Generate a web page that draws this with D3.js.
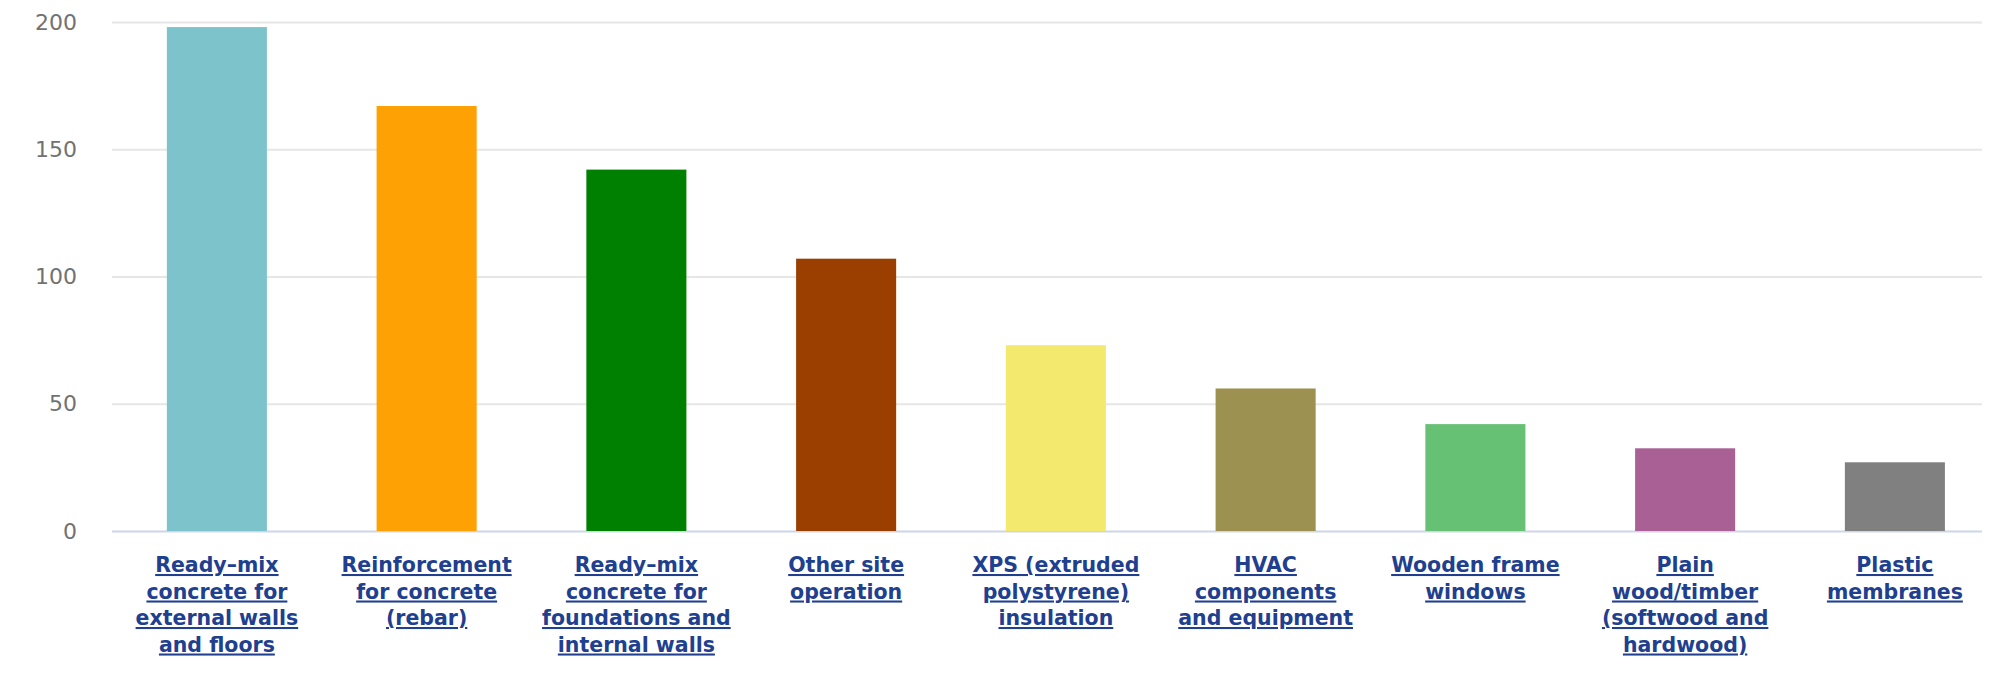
<!DOCTYPE html>
<html>
<head>
<meta charset="utf-8">
<script src="https://cdn.jsdelivr.net/npm/d3@7"></script>
<style>
  html, body { margin: 0; padding: 0; background: #ffffff; }
  svg { display: block; }
</style>
</head>
<body>
<svg id="chart" width="1999" height="675"></svg>
<script>
// ---- data ----
const categories = [
  "Ready–mix concrete for external walls and floors",
  "Reinforcement for concrete (rebar)",
  "Ready–mix concrete for foundations and internal walls",
  "Other site operation",
  "XPS (extruded polystyrene) insulation",
  "HVAC components and equipment",
  "Wooden frame windows",
  "Plain wood/timber (softwood and hardwood)",
  "Plastic membranes"
];
const labelLines = [
  ["Ready–mix", "concrete for", "external walls", "and floors"],
  ["Reinforcement", "for concrete", "(rebar)"],
  ["Ready–mix", "concrete for", "foundations and", "internal walls"],
  ["Other site", "operation"],
  ["XPS (extruded", "polystyrene)", "insulation"],
  ["HVAC", "components", "and equipment"],
  ["Wooden frame", "windows"],
  ["Plain", "wood/timber", "(softwood and", "hardwood)"],
  ["Plastic", "membranes"]
];
const values = [198, 167, 142, 107, 73, 56, 42, 32.5, 27];
const colors = ["#7cc3cc", "#fda104", "#008000", "#9a3f00", "#f3e96f",
                "#9c9150", "#66c175", "#a96195", "#808080"];
const yTicks = [0, 50, 100, 150, 200];

// ---- layout ----
const plotLeft = 112, plotRight = 1982, plotTop = 22, plotBottom = 531;
const svg = d3.select("#chart");

const x = d3.scaleBand()
  .domain(categories)
  .range([plotLeft, plotLeft + 9 * 209.75])
  .paddingInner(0.523)
  .paddingOuter(0.2615);

const y = d3.scaleLinear().domain([0, 200]).range([plotBottom, plotTop]);

// gridlines + y labels
const yAxis = d3.axisLeft(y)
  .tickValues(yTicks)
  .tickSizeInner(-(plotRight - plotLeft))
  .tickSizeOuter(0)
  .tickPadding(35);

const gy = svg.append("g")
  .attr("transform", `translate(${plotLeft},0)`)
  .call(yAxis);
gy.select(".domain").remove();
gy.selectAll(".tick line")
  .attr("stroke", d => d === 0 ? "#ccd6eb" : "#e6e6e6")
  .attr("stroke-width", 2);
gy.selectAll(".tick text")
  .attr("fill", "#727272")
  .style("font-family", "'DejaVu Sans', sans-serif")
  .style("font-size", "22px");

// bars
svg.append("g")
  .selectAll("rect")
  .data(values)
  .join("rect")
  .attr("x", (d, i) => x(categories[i]))
  .attr("width", x.bandwidth())
  .attr("y", d => y(d))
  .attr("height", d => y(0) - y(d))
  .attr("fill", (d, i) => colors[i]);

// x axis labels
const xAxis = d3.axisBottom(x).tickSize(0).tickPadding(0);
const gx = svg.append("g")
  .attr("transform", `translate(0,${plotBottom})`)
  .call(xAxis);
gx.select(".domain").remove();
gx.selectAll(".tick text").each(function(d) {
  const t = d3.select(this);
  t.text(null)
    .attr("y", 0)
    .attr("dy", null)
    .attr("fill", "#213f8f")
    .style("font-family", "'DejaVu Sans', sans-serif")
    .style("font-weight", "bold")
    .style("font-size", "20.5px")
    .style("text-decoration", "underline");
  const lines = labelLines[categories.indexOf(d)];
  lines.forEach((ln, k) => {
    t.append("tspan")
      .attr("x", 0)
      .attr("y", 41 + k * 26.5)
      .text(ln);
  });
});
</script>
</body>
</html>
